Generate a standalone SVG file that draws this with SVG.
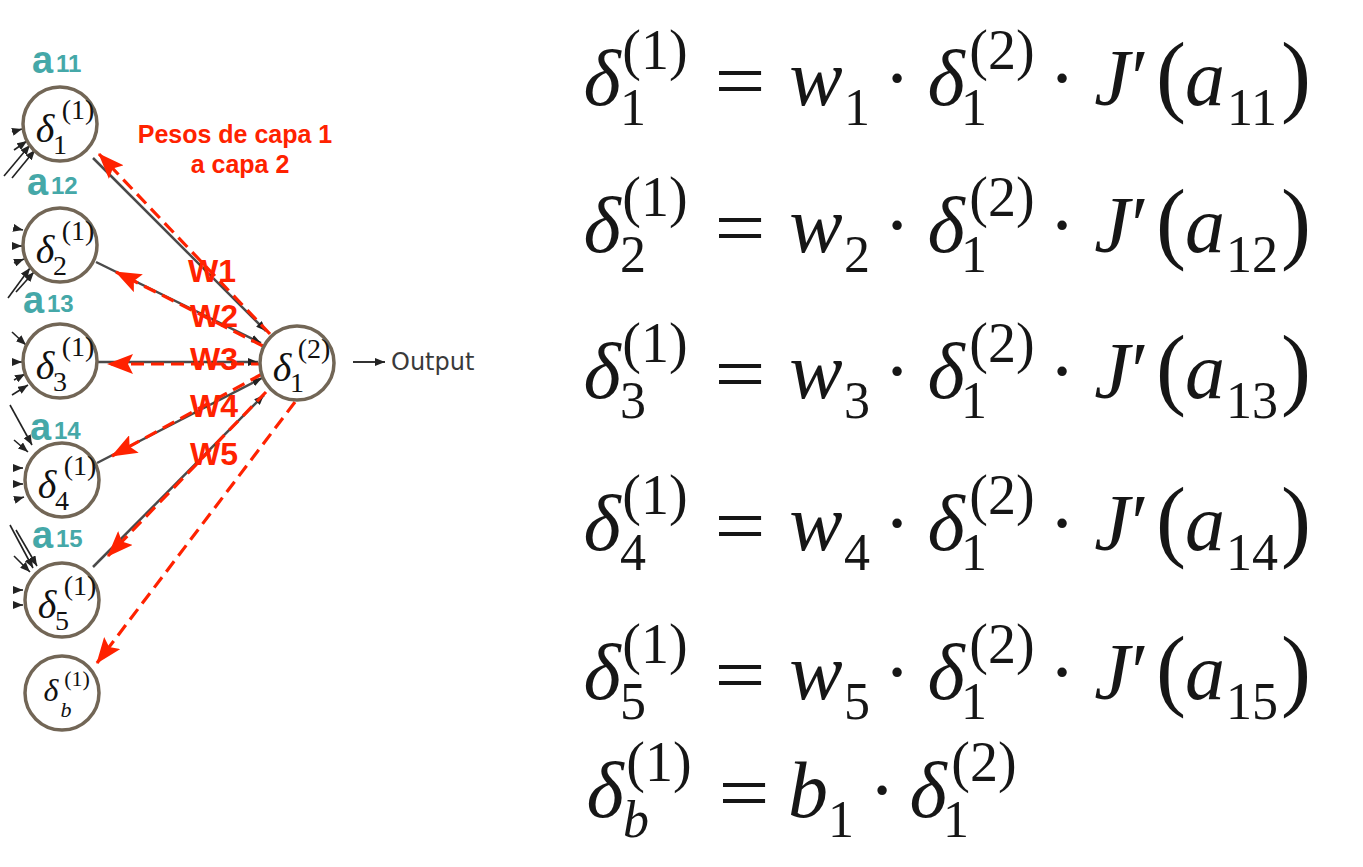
<svg xmlns="http://www.w3.org/2000/svg" width="1363" height="867" viewBox="0 0 1363 867">
<style>
.bg{fill:#ffffff}
.node{fill:#ffffff;stroke:#726656;stroke-width:3.5}
.nd{font-family:'Liberation Serif',serif;font-style:italic;font-size:40px;fill:#111;text-anchor:middle}
.ns{font-family:'Liberation Serif',serif;font-size:28px;fill:#111;text-anchor:middle}
.nsi{font-style:italic}
.lab{font-family:'Liberation Sans',Arial,sans-serif;font-weight:bold;fill:#45a8a8}
.la{font-size:38px}
.ld{font-size:24px}
.red{font-family:'Liberation Sans',Arial,sans-serif;font-weight:bold;fill:#ff2200}
.wt{font-size:32px}
.pt{font-size:25px;text-anchor:middle}
.gray{stroke:#4a4a4a;stroke-width:2.5;fill:none}
.dash{stroke:#ff2200;stroke-width:3.2;fill:none;stroke-dasharray:13 7}
.stub{stroke:#222;stroke-width:1.6;fill:none}
.out{font-family:'DejaVu Sans','Liberation Sans',sans-serif;font-size:24px;fill:#3a3a3a}
.m{font-family:'Liberation Serif',serif;font-size:80px;fill:#161616;text-anchor:middle}
.i{font-style:italic}
.s{font-family:'Liberation Serif',serif;font-size:52px;fill:#161616;text-anchor:middle}
.sp{font-size:56px}
.par{font-size:90px}
</style>
<defs>
<marker id="ra" markerUnits="userSpaceOnUse" markerWidth="26" markerHeight="20" viewBox="0 0 26 20" refX="25" refY="10" orient="auto">
<path d="M0,0 L26,10 L0,20 L5,10 Z" fill="#ff2200"/>
</marker>
<marker id="ba" markerUnits="userSpaceOnUse" markerWidth="10" markerHeight="8" viewBox="0 0 10 8" refX="10" refY="4" orient="auto">
<path d="M0,0 L10,4 L0,8 Z" fill="#222"/>
</marker>
</defs>
<rect class="bg" x="0" y="0" width="1363" height="867"/>

<g id="connectors">
<g id="inputs">
<path class="stub" marker-end="url(#ba)" d="M12,132 L22,129"/>
<path class="stub" marker-end="url(#ba)" d="M14,150 L27,141"/>
<path class="stub" marker-end="url(#ba)" d="M4,176 L30,145"/>
<path class="stub" marker-end="url(#ba)" d="M12,178 L35,150"/>
<path class="stub" marker-end="url(#ba)" d="M14,228 L23,230"/>
<path class="stub" marker-end="url(#ba)" d="M14,246 L22,246"/>
<path class="stub" marker-end="url(#ba)" d="M14,263 L24,259"/>
<path class="stub" marker-end="url(#ba)" d="M8,298 L30,268"/>
<path class="stub" marker-end="url(#ba)" d="M16,292 L34,272"/>
<path class="stub" marker-end="url(#ba)" d="M12,332 L26,345"/>
<path class="stub" marker-end="url(#ba)" d="M14,362 L22,362"/>
<path class="stub" marker-end="url(#ba)" d="M14,380 L25,374"/>
<path class="stub" marker-end="url(#ba)" d="M12,395 L28,385"/>
<path class="stub" marker-end="url(#ba)" d="M10,405 L32,445"/>
<path class="stub" marker-end="url(#ba)" d="M14,440 L28,452"/>
<path class="stub" marker-end="url(#ba)" d="M14,468 L23,468"/>
<path class="stub" marker-end="url(#ba)" d="M14,484 L23,484"/>
<path class="stub" marker-end="url(#ba)" d="M14,500 L24,497"/>
<path class="stub" marker-end="url(#ba)" d="M10,525 L33,568"/>
<path class="stub" marker-end="url(#ba)" d="M16,530 L37,566"/>
<path class="stub" marker-end="url(#ba)" d="M14,556 L30,572"/>
<path class="stub" marker-end="url(#ba)" d="M14,590 L23,590"/>
<path class="stub" marker-end="url(#ba)" d="M14,605 L23,605"/>
</g>
<g id="forward">
<line class="gray" marker-end="url(#ba)" x1="93" y1="158" x2="266" y2="331"/>
<line class="gray" marker-end="url(#ba)" x1="96" y1="262" x2="261" y2="343"/>
<line class="gray" marker-end="url(#ba)" x1="97" y1="362" x2="258" y2="362"/>
<line class="gray" marker-end="url(#ba)" x1="97" y1="463" x2="262" y2="378"/>
<line class="gray" marker-end="url(#ba)" x1="93" y1="567" x2="264" y2="395"/>
</g>
<g id="backward">
<line class="dash" marker-end="url(#ra)" x1="270" y1="334" x2="99" y2="154"/>
<line class="dash" marker-end="url(#ra)" x1="263" y1="346" x2="116" y2="272"/>
<line class="dash" marker-end="url(#ra)" x1="264" y1="364" x2="108" y2="364"/>
<line class="dash" marker-end="url(#ra)" x1="262" y1="374" x2="112" y2="456"/>
<line class="dash" marker-end="url(#ra)" x1="266" y1="392" x2="108" y2="556"/>
<line class="dash" marker-end="url(#ra)" x1="295" y1="402" x2="97" y2="663"/>
</g>
<line class="stub" marker-end="url(#ba)" x1="353" y1="362" x2="385" y2="362" style="stroke:#333;stroke-width:2"/>
</g>

<g id="n1">
<circle class="node" cx="60" cy="124" r="37"/>
<text class="nd" x="45" y="142">δ</text>
<text class="ns" x="60" y="154">1</text>
<text class="ns" x="78" y="119">(1)</text>
</g>
<g id="n2">
<circle class="node" cx="60" cy="245" r="37"/>
<text class="nd" x="45" y="263">δ</text>
<text class="ns" x="60" y="275">2</text>
<text class="ns" x="78" y="240">(1)</text>
</g>
<g id="n3">
<circle class="node" cx="60" cy="361" r="37"/>
<text class="nd" x="45" y="379">δ</text>
<text class="ns" x="60" y="391">3</text>
<text class="ns" x="78" y="356">(1)</text>
</g>
<g id="n4">
<circle class="node" cx="62" cy="480" r="37"/>
<text class="nd" x="47" y="498">δ</text>
<text class="ns" x="62" y="510">4</text>
<text class="ns" x="80" y="475">(1)</text>
</g>
<g id="n5">
<circle class="node" cx="62" cy="600" r="37"/>
<text class="nd" x="47" y="618">δ</text>
<text class="ns" x="62" y="630">5</text>
<text class="ns" x="80" y="595">(1)</text>
</g>
<g id="nb">
<circle class="node" cx="62" cy="693" r="37"/>
<text class="nd" x="51" y="701" style="font-size:32px">δ</text>
<text class="ns nsi" x="66" y="717" style="font-size:22px">b</text>
<text class="ns" x="77" y="686" style="font-size:22px">(1)</text>
</g>
<g id="nout">
<circle class="node" cx="297" cy="363" r="37"/>
<text class="nd" x="282" y="381">δ</text>
<text class="ns" x="297" y="392">1</text>
<text class="ns" x="314" y="358">(2)</text>
</g>
<g id="output">
<text class="out" x="391" y="370">Output</text>
</g>

<g id="labels">
<text class="lab la" x="32" y="73">a</text><text class="lab ld" x="56" y="72">11</text>
<text class="lab la" x="27" y="195">a</text><text class="lab ld" x="51" y="194">12</text>
<text class="lab la" x="23" y="313">a</text><text class="lab ld" x="47" y="312">13</text>
<text class="lab la" x="30" y="440">a</text><text class="lab ld" x="54" y="439">14</text>
<text class="lab la" x="32" y="548">a</text><text class="lab ld" x="56" y="547">15</text>
<text class="red pt" x="235" y="143">Pesos de capa 1</text>
<text class="red pt" x="240" y="173">a capa 2</text>
<text class="red wt" x="188" y="282">W1</text>
<text class="red wt" x="190" y="327">W2</text>
<text class="red wt" x="190" y="370">W3</text>
<text class="red wt" x="190" y="417">W4</text>
<text class="red wt" x="190" y="465">W5</text>
</g>

<g id="eq1" transform="translate(0,105)">
<text class="m i" x="602" y="0">δ</text><text class="s" x="633" y="20">1</text><text class="s sp" x="655" y="-36">(1)</text>
<text class="m" x="740" y="3" textLength="51" lengthAdjust="spacingAndGlyphs">=</text>
<text class="m i" x="816" y="0">w</text><text class="s" x="857" y="20">1</text>
<text class="m" x="897" y="0">·</text>
<text class="m i" x="946" y="0">δ</text><text class="s" x="974" y="20">1</text><text class="s sp" x="1002" y="-36">(2)</text>
<text class="m" x="1062" y="0">·</text>
<text class="m i" x="1112" y="0">J</text><text class="m" x="1140" y="0">′</text>
<text class="m par" x="1171" y="0">(</text><text class="m i" x="1205" y="0">a</text><text class="s" x="1252" y="20">11</text><text class="m par" x="1296" y="0">)</text>
</g>
<g id="eq2" transform="translate(0,252)">
<text class="m i" x="602" y="0">δ</text><text class="s" x="633" y="20">2</text><text class="s sp" x="655" y="-36">(1)</text>
<text class="m" x="740" y="3" textLength="51" lengthAdjust="spacingAndGlyphs">=</text>
<text class="m i" x="816" y="0">w</text><text class="s" x="857" y="20">2</text>
<text class="m" x="897" y="0">·</text>
<text class="m i" x="946" y="0">δ</text><text class="s" x="974" y="20">1</text><text class="s sp" x="1002" y="-36">(2)</text>
<text class="m" x="1062" y="0">·</text>
<text class="m i" x="1112" y="0">J</text><text class="m" x="1140" y="0">′</text>
<text class="m par" x="1171" y="0">(</text><text class="m i" x="1205" y="0">a</text><text class="s" x="1252" y="20">12</text><text class="m par" x="1296" y="0">)</text>
</g>
<g id="eq3" transform="translate(0,398)">
<text class="m i" x="602" y="0">δ</text><text class="s" x="633" y="20">3</text><text class="s sp" x="655" y="-36">(1)</text>
<text class="m" x="740" y="3" textLength="51" lengthAdjust="spacingAndGlyphs">=</text>
<text class="m i" x="816" y="0">w</text><text class="s" x="857" y="20">3</text>
<text class="m" x="897" y="0">·</text>
<text class="m i" x="946" y="0">δ</text><text class="s" x="974" y="20">1</text><text class="s sp" x="1002" y="-36">(2)</text>
<text class="m" x="1062" y="0">·</text>
<text class="m i" x="1112" y="0">J</text><text class="m" x="1140" y="0">′</text>
<text class="m par" x="1171" y="0">(</text><text class="m i" x="1205" y="0">a</text><text class="s" x="1252" y="20">13</text><text class="m par" x="1296" y="0">)</text>
</g>
<g id="eq4" transform="translate(0,550)">
<text class="m i" x="602" y="0">δ</text><text class="s" x="633" y="20">4</text><text class="s sp" x="655" y="-36">(1)</text>
<text class="m" x="740" y="3" textLength="51" lengthAdjust="spacingAndGlyphs">=</text>
<text class="m i" x="816" y="0">w</text><text class="s" x="857" y="20">4</text>
<text class="m" x="897" y="0">·</text>
<text class="m i" x="946" y="0">δ</text><text class="s" x="974" y="20">1</text><text class="s sp" x="1002" y="-36">(2)</text>
<text class="m" x="1062" y="0">·</text>
<text class="m i" x="1112" y="0">J</text><text class="m" x="1140" y="0">′</text>
<text class="m par" x="1171" y="0">(</text><text class="m i" x="1205" y="0">a</text><text class="s" x="1252" y="20">14</text><text class="m par" x="1296" y="0">)</text>
</g>
<g id="eq5" transform="translate(0,699)">
<text class="m i" x="602" y="0">δ</text><text class="s" x="633" y="20">5</text><text class="s sp" x="655" y="-36">(1)</text>
<text class="m" x="740" y="3" textLength="51" lengthAdjust="spacingAndGlyphs">=</text>
<text class="m i" x="816" y="0">w</text><text class="s" x="857" y="20">5</text>
<text class="m" x="897" y="0">·</text>
<text class="m i" x="946" y="0">δ</text><text class="s" x="974" y="20">1</text><text class="s sp" x="1002" y="-36">(2)</text>
<text class="m" x="1062" y="0">·</text>
<text class="m i" x="1112" y="0">J</text><text class="m" x="1140" y="0">′</text>
<text class="m par" x="1171" y="0">(</text><text class="m i" x="1205" y="0">a</text><text class="s" x="1252" y="20">15</text><text class="m par" x="1296" y="0">)</text>
</g>
<g id="eq6" transform="translate(0,817)">
<text class="m i" x="605" y="0">δ</text><text class="s i" x="636" y="20">b</text><text class="s sp" x="659" y="-36">(1)</text>
<text class="m" x="744" y="3" textLength="51" lengthAdjust="spacingAndGlyphs">=</text>
<text class="m i" x="808" y="0">b</text><text class="s" x="841" y="20">1</text>
<text class="m" x="882" y="0">·</text>
<text class="m i" x="928" y="0">δ</text><text class="s" x="956" y="20">1</text><text class="s sp" x="984" y="-36">(2)</text>
</g>
</svg>
